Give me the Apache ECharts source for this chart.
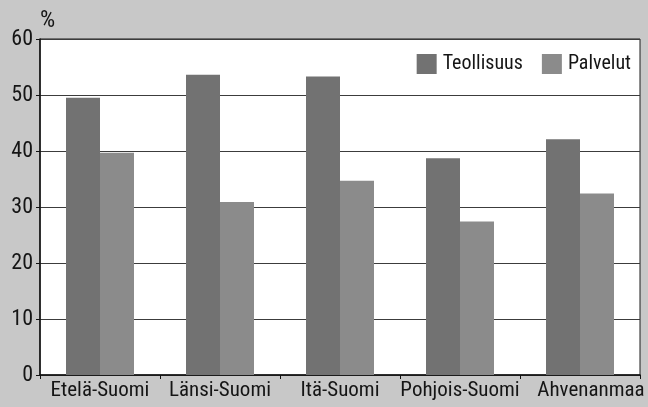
<!DOCTYPE html>
<html>
<head>
<meta charset="utf-8">
<script src="https://cdn.jsdelivr.net/npm/echarts@6/dist/echarts.min.js"></script>
<style>
  html, body { margin: 0; padding: 0; background: #c8c8c8; }
  #main { width: 648px; height: 407px; }
</style>
</head>
<body>
<div id="main"></div>
<script>
// alueet ja osuudet (%)
var regions = ['Etelä-Suomi', 'Länsi-Suomi', 'Itä-Suomi', 'Pohjois-Suomi', 'Ahvenanmaa'];
var teollisuus = [49.5, 53.6, 53.3, 38.7, 42.1];
var palvelut = [39.7, 30.9, 34.7, 27.4, 32.4];
var yTicks = [0, 10, 20, 30, 40, 50, 60];

var font = '"Roboto Condensed", "DejaVu Sans Condensed", sans-serif';
var chart = echarts.init(document.getElementById('main'));
chart.setOption({
  backgroundColor: '#c8c8c8',
  animation: false,
  textStyle: { fontFamily: font, color: '#151515' },
  grid: {
    left: 40, right: 8, top: 39, bottom: 32,
    show: true, backgroundColor: '#ffffff',
    borderColor: '#1a1a1a', borderWidth: 1
  },
  legend: {
    right: 17, top: 54, padding: 0,
    itemWidth: 20, itemHeight: 20, itemGap: 19,
    icon: 'rect',
    textStyle: { fontFamily: font, fontSize: 20, color: '#151515', padding: [0, 0, 0, 1] },
    data: ['Teollisuus', 'Palvelut']
  },
  xAxis: {
    type: 'category',
    data: regions,
    axisLine: { lineStyle: { color: '#111', width: 1.5 } },
    axisTick: { show: true, length: 4, lineStyle: { color: '#111' } },
    axisLabel: {
      interval: 0, hideOverlap: false, fontFamily: font, fontSize: 21, color: '#151515', margin: 5,
      // viimeinen nimi on kuvassa siirtynyt oikealle
      formatter: function (v, i) {
        return i === regions.length - 1 ? '{last|' + v + '}' : v;
      },
      rich: {
        last: { fontFamily: font, fontSize: 21, color: '#151515', padding: [0, 0, 0, 22] }
      }
    }
  },
  yAxis: {
    type: 'value',
    min: yTicks[0], max: yTicks[yTicks.length - 1], interval: 10,
    name: '%',
    nameLocation: 'end',
    nameGap: 6,
    nameTextStyle: { fontFamily: font, fontSize: 24, color: '#151515', align: 'left', verticalAlign: 'bottom' },
    axisLine: { show: true, lineStyle: { color: '#111', width: 1.5 } },
    axisTick: { show: true, length: 4, lineStyle: { color: '#111' } },
    axisLabel: { fontFamily: font, fontSize: 22, color: '#151515', margin: 7 },
    splitLine: { show: true, lineStyle: { color: '#3c3c3c', width: 1 } }
  },
  series: [
    {
      name: 'Teollisuus', type: 'bar', data: teollisuus,
      barWidth: 34, barGap: '0%',
      itemStyle: { color: '#727272' }
    },
    {
      name: 'Palvelut', type: 'bar', data: palvelut,
      barWidth: 34,
      itemStyle: { color: '#8b8b8b' }
    }
  ]
});
</script>
</body>
</html>
